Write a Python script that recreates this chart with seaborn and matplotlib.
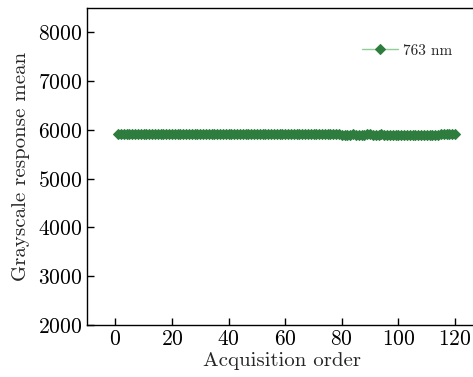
import numpy as np
import pandas as pd
import seaborn as sns
import matplotlib.pyplot as plt

# acquisition order and grayscale response mean (763 nm)
order = list(range(1, 121))
gray_mean = [
    5912, 5915, 5918, 5920, 5921, 5919, 5922, 5920, 5918, 5921,
    5923, 5920, 5917, 5915, 5913, 5911, 5912, 5914, 5913, 5910,
    5912, 5915, 5917, 5919, 5920, 5918, 5916, 5919, 5921, 5922,
    5920, 5918, 5919, 5921, 5923, 5920, 5918, 5916, 5918, 5920,
    5921, 5919, 5917, 5919, 5922, 5924, 5921, 5919, 5920, 5922,
    5923, 5921, 5919, 5917, 5918, 5920, 5922, 5921, 5919, 5920,
    5922, 5923, 5921, 5920, 5918, 5920, 5922, 5924, 5922, 5920,
    5919, 5921, 5923, 5922, 5920, 5918, 5920, 5921, 5919, 5906,
    5904, 5903, 5905, 5907, 5906, 5904, 5903, 5905, 5907, 5908,
    5906, 5904, 5905, 5907, 5906, 5904, 5902, 5904, 5906, 5905,
    5903, 5901, 5899, 5898, 5900, 5902, 5904, 5903, 5901, 5899,
    5898, 5900, 5903, 5905, 5907, 5909, 5911, 5912, 5910, 5912,
]
series_label = "763 nm"

df = pd.DataFrame({"order": order, "mean": gray_mean})

sns.set_style("ticks")
plt.rcParams["font.family"] = ["cmr10", "DejaVu Serif"]
plt.rcParams["axes.formatter.use_mathtext"] = True
plt.rcParams["mathtext.fontset"] = "cm"

fig = plt.figure(figsize=(4.73, 3.77), dpi=100)
ax = fig.add_axes([87 / 473, 1 - 325 / 377, 1 - 87 / 473 + 0.01, (325 - 8) / 377])

sns.lineplot(data=df, x="order", y="mean", ax=ax, color="#8fcf97", linewidth=1.0,
             marker="D", markersize=5.5, markerfacecolor="#2e7d3e",
             markeredgecolor="#2e7d3e", label=series_label)

ax.set_xlim(-10, 128)
ax.set_ylim(2000, 8500)
ax.set_xticks(range(0, 121, 20))
ax.set_yticks(range(2000, 8001, 1000))
ax.tick_params(direction="in", length=5, width=1, labelsize=15.5, colors="black")
ax.set_xlabel("Acquisition order", fontsize=15, labelpad=2)
ax.set_ylabel("Grayscale response mean", fontsize=15, labelpad=6)
for side in ["left", "bottom", "top", "right"]:
    ax.spines[side].set_linewidth(1.0)
    ax.spines[side].set_color("black")

leg = ax.legend(loc="upper right", bbox_to_anchor=(0.97, 0.93), frameon=False,
                fontsize=11, handlelength=2.4, handletextpad=0.3)
for h in leg.legend_handles:
    h.set_markersize(5)

fig.savefig("out.png", dpi=100)
